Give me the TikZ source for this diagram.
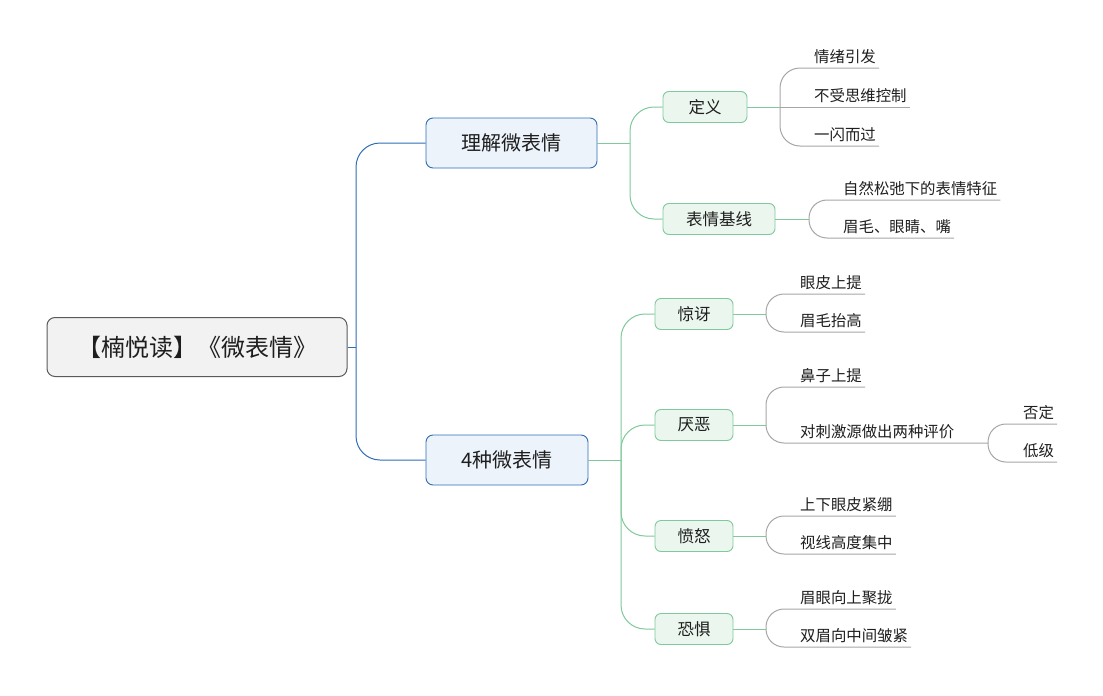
\documentclass[tikz,border=0pt]{standalone}
\usepackage{fontspec}
\setmainfont{Noto Sans CJK SC}
\definecolor{rootline}{HTML}{5A5A5A}
\definecolor{rootfill}{HTML}{F2F2F2}
\definecolor{blueline}{HTML}{2F6DB5}
\definecolor{bluefill}{HTML}{EDF3FB}
\definecolor{greenline}{HTML}{7FC99B}
\definecolor{greenfill}{HTML}{EAF6EE}
\definecolor{grayline}{HTML}{A6A6A6}
\definecolor{txt}{HTML}{1E1E1E}
\begin{document}
\begin{tikzpicture}[x=1pt,y=-1pt,
  rootbox/.style={draw=rootline, fill=rootfill, rounded corners=8pt, line width=1pt,
    minimum width=300pt, minimum height=59pt, inner sep=0pt, text=txt,
    font=\fontsize{24}{28}\selectfont},
  lonebox/.style={draw=blueline, fill=bluefill, rounded corners=7pt, line width=0.9pt,
    minimum height=50pt, inner sep=0pt, text=txt, font=\fontsize{20}{24}\selectfont},
  ltwobox/.style={draw=greenline, fill=greenfill, rounded corners=6pt, line width=0.9pt,
    minimum height=31pt, inner sep=0pt, text=txt, font=\fontsize{16.5}{19}\selectfont},
  leaf/.style={anchor=base west, inner sep=0pt, text=txt, font=\fontsize{15.4}{18}\selectfont},
  bluecon/.style={draw=blueline, line width=1pt},
  greencon/.style={draw=greenline, line width=1pt},
  graycon/.style={draw=grayline, line width=1pt},
  ul/.style={xshift=3pt, yshift=-6pt}
]
\useasboundingbox (0,0) rectangle (1103,696);

% root and level 1
\node[rootbox] (root) at (197,347) {【楠悦读】《微表情》};
\coordinate (t0) at (356,347);
\node[lonebox, minimum width=171pt] (ua) at (511.5,143) {理解微表情};
\node[lonebox, minimum width=162pt] (ub) at (507,460) {4种微表情};
\draw[bluecon] (root.east) -- (t0);
\draw[bluecon, rounded corners=24pt] (t0) |- (ua.west);
\draw[bluecon, rounded corners=24pt] (t0) |- (ub.west);

% level 2 under 理解微表情
\coordinate (t1) at (630,143);
\node[ltwobox, minimum width=84pt] (dy) at (705,107) {定义};
\node[ltwobox, minimum width=112pt] (jx) at (719,219) {表情基线};
\draw[greencon] (ua.east) -- (t1);
\draw[greencon, rounded corners=24pt] (t1) |- (dy.west);
\draw[greencon, rounded corners=24pt] (t1) |- (jx.west);

% 定义 leaves
\coordinate (cdy) at (780,107);
\node[leaf] (a1) at (814,62) {情绪引发};
\node[leaf] (a2) at (814,101) {不受思维控制};
\node[leaf] (a3) at (814,140) {一闪而过};
\draw[greencon] (dy.east) -- (cdy);
\draw[graycon, rounded corners=20pt] (cdy) |- ([ul]a1.base east);
\draw[graycon] (cdy) -- ([ul]a2.base east);
\draw[graycon, rounded corners=20pt] (cdy) |- ([ul]a3.base east);

% 表情基线 leaves
\coordinate (cjx) at (809,219);
\node[leaf] (b1) at (843,194) {自然松弛下的表情特征};
\node[leaf] (b2) at (843,232) {眉毛、眼睛、嘴};
\draw[greencon] (jx.east) -- (cjx);
\draw[graycon, rounded corners=18pt] (cjx) |- ([ul]b1.base east);
\draw[graycon, rounded corners=18pt] (cjx) |- ([ul]b2.base east);

% level 2 under 4种微表情
\coordinate (t2) at (621,460);
\node[ltwobox, minimum width=78pt] (jy) at (694,314) {惊讶};
\node[ltwobox, minimum width=78pt] (yw) at (694,425) {厌恶};
\node[ltwobox, minimum width=78pt] (fn) at (694,536) {愤怒};
\node[ltwobox, minimum width=78pt] (kj) at (694,629) {恐惧};
\draw[greencon] (ub.east) -- (t2);
\draw[greencon, rounded corners=24pt] (t2) |- (jy.west);
\draw[greencon, rounded corners=24pt] (t2) |- (yw.west);
\draw[greencon, rounded corners=24pt] (t2) |- (fn.west);
\draw[greencon, rounded corners=24pt] (t2) |- (kj.west);

% 惊讶 leaves
\coordinate (cjy) at (766,314);
\node[leaf] (e1) at (800,288) {眼皮上提};
\node[leaf] (e2) at (800,326) {眉毛抬高};
\draw[greencon] (jy.east) -- (cjy);
\draw[graycon, rounded corners=18pt] (cjy) |- ([ul]e1.base east);
\draw[graycon, rounded corners=18pt] (cjy) |- ([ul]e2.base east);

% 厌恶 leaves
\coordinate (cyw) at (766,425);
\coordinate (cpj) at (988,443);
\node[leaf] (f1) at (800,381) {鼻子上提};
\node[leaf] (f2) at (800,437) {对刺激源做出两种评价};
\draw[greencon] (yw.east) -- (cyw);
\draw[graycon, rounded corners=18pt] (cyw) |- ([ul]f1.base east);
\draw[graycon, rounded corners=18pt] (cyw) |- (cpj);
\node[leaf] (p1) at (1023,418) {否定};
\node[leaf] (p2) at (1023,456) {低级};
\draw[graycon, rounded corners=18pt] (cpj) |- ([ul]p1.base east);
\draw[graycon, rounded corners=18pt] (cpj) |- ([ul]p2.base east);

% 愤怒 leaves
\coordinate (cfn) at (766,536);
\node[leaf] (g1) at (800,510) {上下眼皮紧绷};
\node[leaf] (g2) at (800,548) {视线高度集中};
\draw[greencon] (fn.east) -- (cfn);
\draw[graycon, rounded corners=18pt] (cfn) |- ([ul]g1.base east);
\draw[graycon, rounded corners=18pt] (cfn) |- ([ul]g2.base east);

% 恐惧 leaves
\coordinate (ckj) at (766,629);
\node[leaf] (h1) at (800,603) {眉眼向上聚拢};
\node[leaf] (h2) at (800,641) {双眉向中间皱紧};
\draw[greencon] (kj.east) -- (ckj);
\draw[graycon, rounded corners=18pt] (ckj) |- ([ul]h1.base east);
\draw[graycon, rounded corners=18pt] (ckj) |- ([ul]h2.base east);
\end{tikzpicture}
\end{document}
